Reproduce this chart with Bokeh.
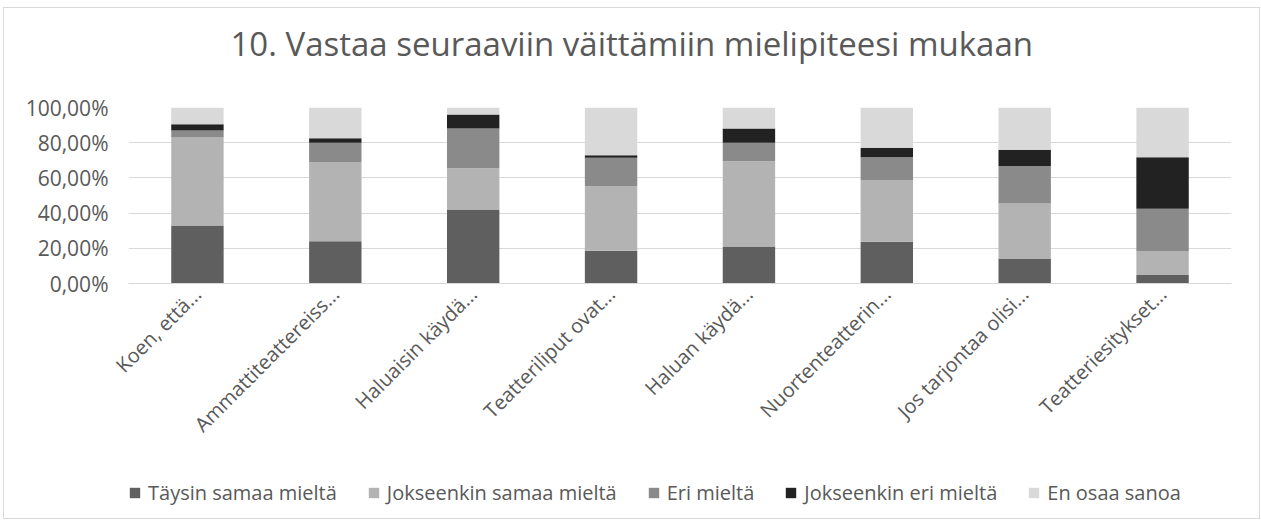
import math
from bokeh.plotting import figure
from bokeh.layouts import column
from bokeh.models import FactorRange, Range1d, FixedTicker, Legend, LegendItem, Title
from bokeh.embed import file_html
from bokeh.resources import INLINE

title_text = "10. Vastaa seuraaviin väittämiin mielipiteesi mukaan"
categories = ["Koen, että...", "Ammattiteattereiss...", "Haluaisin käydä...",
              "Teatteriliput ovat...", "Haluan käydä...", "Nuortenteatterin...",
              "Jos tarjontaa olisi...", "Teatteriesitykset..."]
series_names = ["Täysin samaa mieltä", "Jokseenkin samaa mieltä", "Eri mieltä",
                "Jokseenkin eri mieltä", "En osaa sanoa"]
taysin_samaa = [33.0, 24.0, 42.0, 18.6, 21.0, 23.7, 14.2, 4.8]
jokseenkin_samaa = [50.0, 45.0, 23.5, 36.8, 48.5, 35.1, 31.2, 13.6]
eri_mielta = [4.0, 11.0, 22.5, 16.0, 10.5, 13.0, 21.3, 24.1]
jokseenkin_eri = [3.5, 2.5, 8.0, 1.4, 8.0, 5.4, 9.3, 29.3]
en_osaa = [9.5, 17.5, 4.0, 27.2, 12.0, 22.8, 24.0, 28.2]
y_ticks = [0, 20, 40, 60, 80, 100]
y_tick_labels = ["0,00%", "20,00%", "40,00%", "60,00%", "80,00%", "100,00%"]

colors = ["#5f5f5f", "#b3b3b3", "#8a8a8a", "#222222", "#d9d9d9"]
text_color = "#595959"
font = "Open Sans"

keys = ["s0", "s1", "s2", "s3", "s4"]
data = {"cat": categories, "s0": taysin_samaa, "s1": jokseenkin_samaa,
        "s2": eri_mielta, "s3": jokseenkin_eri, "s4": en_osaa}

p = figure(x_range=FactorRange(*categories), y_range=Range1d(0, 100),
           frame_width=1103, frame_height=176, output_backend="svg", toolbar_location=None,
           min_border_left=124, min_border_right=28, min_border_top=99,
           min_border_bottom=195)
p.outline_line_color = None

p.vbar_stack(keys, x="cat", width=0.38, color=colors, line_color=None, source=data)

p.x_range.range_padding = 0
p.xgrid.grid_line_color = None
p.ygrid.grid_line_color = "#d9d9d9"
p.ygrid.grid_line_width = 1

p.yaxis.ticker = FixedTicker(ticks=y_ticks)
p.yaxis.major_label_overrides = dict(zip(y_ticks, y_tick_labels))
p.yaxis.axis_line_color = None
p.yaxis.major_tick_line_color = None
p.yaxis.minor_tick_line_color = None
p.yaxis.major_tick_out = 0
p.yaxis.major_label_standoff = 20
p.yaxis.major_label_text_font = font
p.yaxis.major_label_text_font_size = "21px"
p.yaxis.major_label_text_color = text_color

p.xaxis.axis_line_color = "#d9d9d9"
p.xaxis.major_tick_line_color = None
p.xaxis.minor_tick_line_color = None
p.xaxis.major_tick_out = 0
p.xaxis.major_label_orientation = math.pi / 4
p.xaxis.major_label_standoff = 7
p.xaxis.major_label_text_font = font
p.xaxis.major_label_text_font_size = "20px"
p.xaxis.major_label_text_color = text_color

spacer = Title(text=" ", standoff=38, text_font_size="2px")
p.add_layout(spacer, "above")
title = Title(text=title_text, align="left", offset=102, standoff=0,
              text_font=font, text_font_size="33px", text_font_style="normal",
              text_color=text_color)
p.add_layout(title, "above")

# legend strip (zero-size proxy bars so that the legend swatches get their colours)
p2 = figure(width=1255, height=40, x_range=FactorRange(*categories), y_range=Range1d(0, 1),
            output_backend="svg", toolbar_location=None, x_axis_type=None,
            y_axis_type=None, min_border=0, min_border_left=0, min_border_right=0,
            min_border_top=0, min_border_bottom=0)
p2.outline_line_color = None
p2.grid.visible = False
legend_renderers = [p2.vbar(x=[categories[0]], top=[0], bottom=[0], width=0,
                            fill_color=c, line_color=None) for c in colors]

legend = Legend(items=[LegendItem(label=n, renderers=[r]) for n, r in zip(series_names, legend_renderers)],
                location=(0, 12), orientation="horizontal",
                label_text_font=font, label_text_font_size="20px",
                label_text_color=text_color, glyph_width=13, glyph_height=13,
                label_standoff=7, spacing=30, border_line_color=None,
                background_fill_alpha=0, padding=0, margin=0)
p2.add_layout(legend, "center")

layout = column(p, p2, spacing=0)
layout.styles = {"border": "1px solid #d9d9d9", "margin-left": "3px", "margin-top": "7px"}

open("out.html", "w").write(file_html(layout, INLINE))
